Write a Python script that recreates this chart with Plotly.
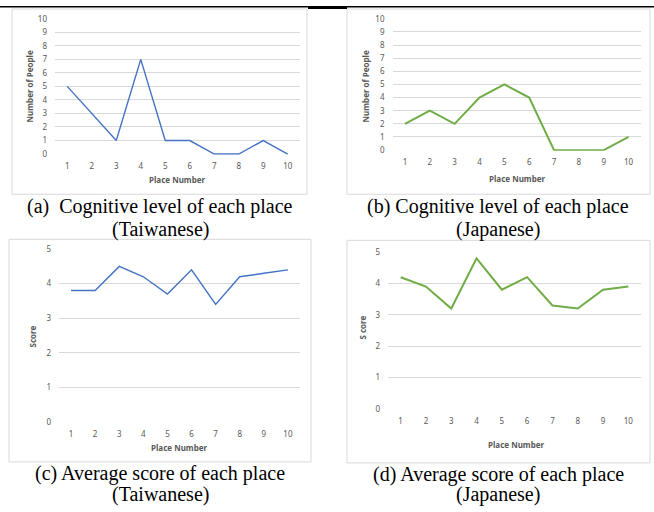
import plotly.graph_objects as go

W, H = 654, 512

places = [1, 2, 3, 4, 5, 6, 7, 8, 9, 10]
place_labels = ["1", "2", "3", "4", "5", "6", "7", "8", "9", "10"]
people_taiwanese = [5, 3, 1, 7, 1, 1, 0, 0, 1, 0]
people_japanese = [2, 3, 2, 4, 5, 4, 0, 0, 0, 1]
score_taiwanese = [3.8, 3.8, 4.5, 4.2, 3.7, 4.4, 3.4, 4.2, 4.3, 4.4]
score_japanese = [4.2, 3.9, 3.2, 4.8, 3.8, 4.2, 3.3, 3.2, 3.8, 3.9]

captions = [
    ["(a)  Cognitive level of each place", "(Taiwanese)"],
    ["(b) Cognitive level of each place", "(Japanese)"],
    ["(c) Average score of each place", "(Taiwanese)"],
    ["(d) Average score of each place", "(Japanese)"],
]
y_titles = ["Number of People", "Number of People", "Score", "S core"]
x_title = "Place Number"

BLUE = "#4472C4"
GREEN = "#70AD47"
GRID = "#d9d9d9"
TICK = "#595959"
BORDER = "#d9d9d9"

# panel layout (pixels)
panels = [
    dict(px0=55, px1=300, vpix=(151, 13), vmax=10, series=people_taiwanese, color=BLUE, lw=1.4,
         box=(12, 3, 307, 192), ytitle=(29, 82), xtitle=(177, 177), cap=(160, 205, 228)),
    dict(px0=392.5, px1=641, vpix=(147, 13), vmax=10, series=people_japanese, color=GREEN, lw=2,
         box=(347, 3, 650, 192), ytitle=(365, 82), xtitle=(517, 176), cap=(498, 205, 228)),
    dict(px0=59, px1=300, vpix=(424, 248), vmax=5, series=score_taiwanese, color=BLUE, lw=1.4,
         box=(9, 238, 311, 465), ytitle=(32, 337), xtitle=(179, 450), cap=(160, 477, 498)),
    dict(px0=388, px1=641, vpix=(411, 251), vmax=5, series=score_japanese, color=GREEN, lw=2,
         box=(347, 239, 650, 466), ytitle=(363, 328), xtitle=(516, 447), cap=(498, 478, 498)),
]

fig = go.Figure()
shapes = []
annotations = []
axis_font = dict(family="Noto Sans", size=8, color=TICK)

for i, p in enumerate(panels):
    n = i + 1
    xa = "x" if n == 1 else f"x{n}"
    ya = "y" if n == 1 else f"y{n}"
    pad = 0.05 * p["vmax"] / 10
    lo, hi = -pad, p["vmax"] + pad
    py0, pyv = p["vpix"]
    scale = (pyv - py0) / p["vmax"]
    top_px = py0 + hi * scale
    bot_px = py0 + lo * scale

    fig.add_trace(go.Scatter(
        x=places, y=p["series"], mode="lines",
        line=dict(color=p["color"], width=p["lw"]),
        xaxis=xa, yaxis=ya, showlegend=False, hoverinfo="skip",
    ))

    xkey = "xaxis" if n == 1 else f"xaxis{n}"
    ykey = "yaxis" if n == 1 else f"yaxis{n}"
    fig.layout[xkey] = dict(
        domain=[p["px0"] / W, p["px1"] / W], range=[0.5, 10.5],
        tickvals=places, ticktext=place_labels, showgrid=False, zeroline=False,
        showline=False, ticks="", tickfont=axis_font, ticklabelstandoff=5,
        anchor=ya, fixedrange=True,
    )
    fig.layout[ykey] = dict(
        domain=[1 - bot_px / H, 1 - top_px / H], range=[lo, hi],
        tickvals=list(range(0, p["vmax"] + 1)), showgrid=True, gridcolor=GRID, gridwidth=1,
        zeroline=False, showline=False, ticks="", tickfont=axis_font, ticklabelstandoff=7,
        anchor=xa, fixedrange=True,
    )

    bx0, by0, bx1, by1 = p["box"]
    shapes.append(dict(type="rect", xref="paper", yref="paper",
                       x0=bx0 / W, x1=bx1 / W, y0=1 - by1 / H, y1=1 - by0 / H,
                       line=dict(color=BORDER, width=1), fillcolor="rgba(0,0,0,0)", layer="below"))

    tx, ty = p["ytitle"]
    annotations.append(dict(text=f"<b>{y_titles[i]}</b>", x=tx / W, y=1 - ty / H, xref="paper", yref="paper",
                            showarrow=False, textangle=-90, xanchor="center", yanchor="middle",
                            font=dict(family="Noto Sans", size=8, color=TICK)))
    tx, ty = p["xtitle"]
    annotations.append(dict(text=f"<b>{x_title}</b>", x=tx / W, y=1 - ty / H, xref="paper", yref="paper",
                            showarrow=False, xanchor="center", yanchor="middle",
                            font=dict(family="Noto Sans", size=8, color=TICK)))
    cx, cy1, cy2 = p["cap"]
    for line_text, cy in zip(captions[i], (cy1, cy2)):
        annotations.append(dict(text=line_text, x=cx / W, y=1 - cy / H, xref="paper", yref="paper",
                                showarrow=False, xanchor="center", yanchor="middle",
                                font=dict(family="Liberation Serif", size=20, color="black")))

# top black rule
shapes.append(dict(type="rect", xref="paper", yref="paper", x0=0, x1=1, y0=1 - 1.5 / H, y1=1,
                   line=dict(width=0), fillcolor="black"))
shapes.append(dict(type="rect", xref="paper", yref="paper", x0=308 / W, x1=347 / W, y0=1 - 3 / H, y1=1,
                   line=dict(width=0), fillcolor="black"))

fig.update_layout(
    width=W, height=H, margin=dict(l=0, r=0, t=0, b=0),
    paper_bgcolor="white", plot_bgcolor="white",
    shapes=shapes, annotations=annotations, showlegend=False,
)

fig.write_html(
    "out.html",
    config={"displayModeBar": False},
    post_script=(
        "document.documentElement.style.margin='0';"
        "document.body.style.margin='0';document.body.style.padding='0';"
        "document.body.style.overflow='hidden';"
        "var d=document.getElementById('{plot_id}');"
        "d.style.position='absolute';d.style.top='0px';d.style.left='0px';"
    ),
)
